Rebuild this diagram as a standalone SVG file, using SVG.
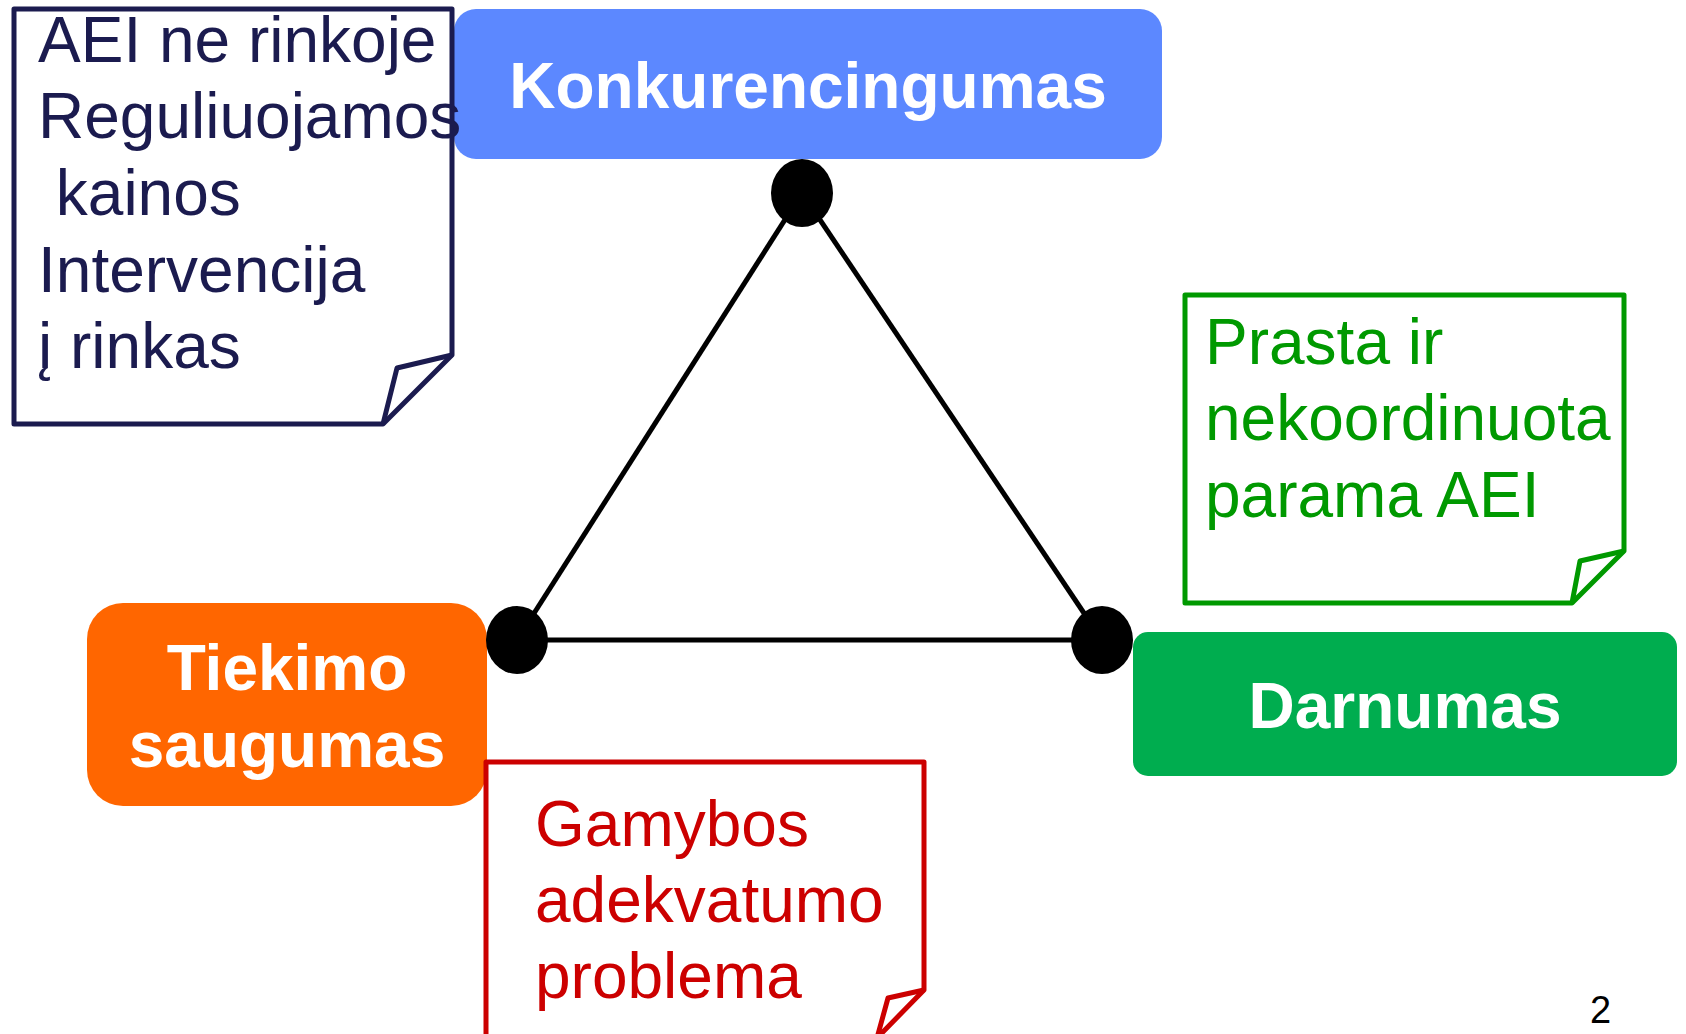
<svg xmlns="http://www.w3.org/2000/svg" width="1686" height="1034" viewBox="0 0 1686 1034">
<style>
.t{font-family:"Liberation Sans",Arial,sans-serif;font-size:64px}
.b{font-weight:bold;fill:#ffffff;text-anchor:middle}
.note{fill:#ffffff;stroke-width:5;stroke-linejoin:round}
.fold{fill:none;stroke-width:5;stroke-linejoin:round}
.edge{stroke:#000000;stroke-width:5;fill:none}
</style>
<rect width="1686" height="1034" fill="#ffffff"/>
<g id="connectors">
<line class="edge" x1="802" y1="193" x2="517" y2="640"/>
<line class="edge" x1="802" y1="193" x2="1102" y2="640"/>
<line class="edge" x1="517" y1="640" x2="1102" y2="640"/>
</g>
<g id="node-konkurencingumas">
<rect x="454" y="9" width="708" height="150" rx="22" fill="#5c88ff"/>
<text class="t b" x="808" y="108">Konkurencingumas</text>
</g>
<g id="note-navy">
<path class="note" stroke="#1b1b4f" d="M14,9 L452,9 L452,355 L383,424 L14,424 Z"/>
<path class="fold" stroke="#1b1b4f" d="M383,424 L397,368 L452,355"/>
<g class="t" fill="#1b1b4f">
<text x="38" y="62">AEI ne rinkoje</text>
<text x="38" y="138">Reguliuojamos</text>
<text x="38" y="215" xml:space="preserve"> kainos</text>
<text x="38" y="292">Intervencija</text>
<text x="38" y="368">į rinkas</text>
</g>
</g>
<g id="note-green">
<path class="note" stroke="#009900" d="M1185,295 L1624,295 L1624,551 L1572,603 L1185,603 Z"/>
<path class="fold" stroke="#009900" d="M1572,603 L1580,561 L1624,551"/>
<g class="t" fill="#009900">
<text x="1205" y="364">Prasta ir</text>
<text x="1205" y="440">nekoordinuota</text>
<text x="1205" y="517">parama AEI</text>
</g>
</g>
<g id="node-tiekimo">
<rect x="87" y="603" width="400" height="203" rx="36" fill="#ff6600"/>
<text class="t b" x="287" y="690">Tiekimo</text>
<text class="t b" x="287" y="767">saugumas</text>
</g>
<g id="node-darnumas">
<rect x="1133" y="632" width="544" height="144" rx="15" fill="#00ad4f"/>
<text class="t b" x="1405" y="728">Darnumas</text>
</g>
<g id="note-red">
<path class="note" stroke="#cc0000" d="M486,762 L924,762 L924,990 L877,1038 L486,1038 Z"/>
<path class="fold" stroke="#cc0000" d="M877,1038 L888,998 L924,990"/>
<g class="t" fill="#cc0000">
<text x="535" y="846">Gamybos</text>
<text x="535" y="922">adekvatumo</text>
<text x="535" y="998">problema</text>
</g>
</g>
<g id="dots" fill="#000000">
<ellipse cx="802" cy="193" rx="31" ry="34"/>
<ellipse cx="517" cy="640" rx="31" ry="34"/>
<ellipse cx="1102" cy="640" rx="31" ry="34"/>
</g>
<text x="1590" y="1023" font-family="Liberation Sans, Arial, sans-serif" font-size="38" fill="#000000">2</text>
</svg>
